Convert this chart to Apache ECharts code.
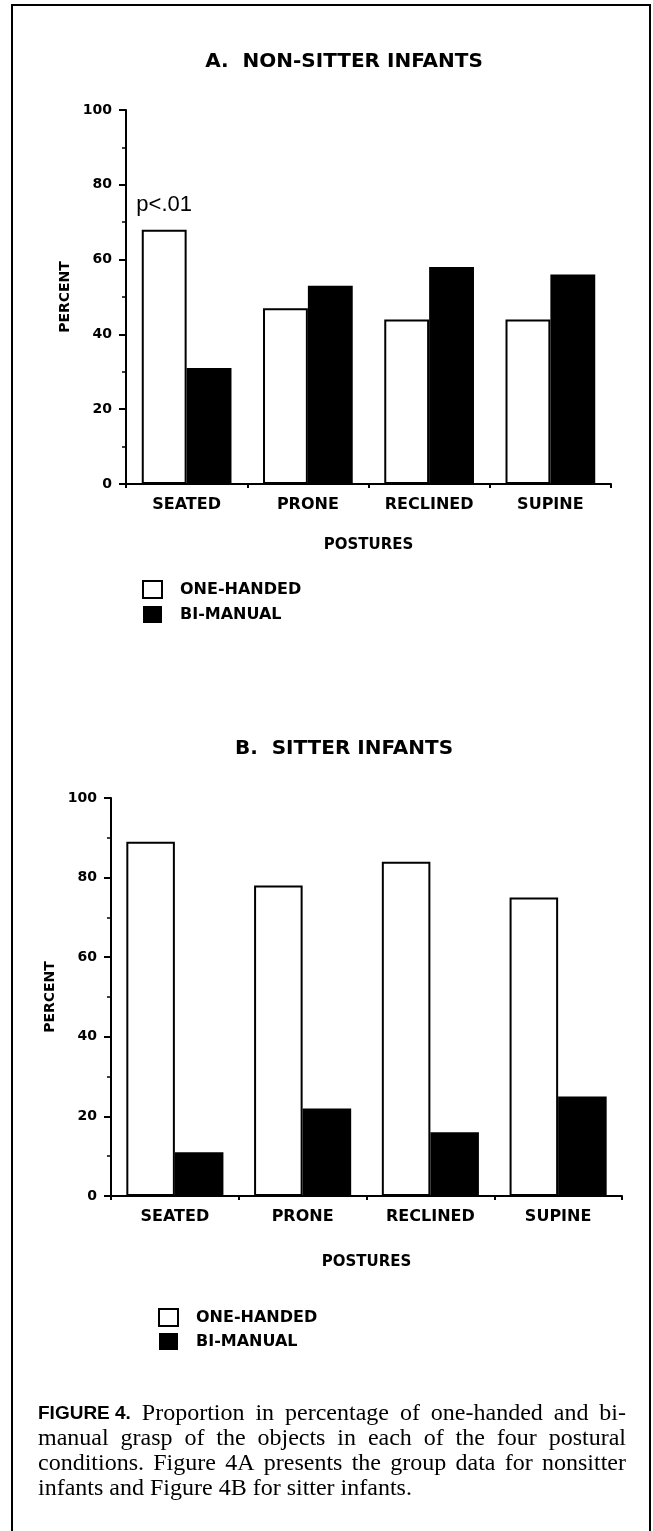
<!DOCTYPE html>
<html>
<head>
<meta charset="utf-8">
<script src="https://cdn.jsdelivr.net/npm/echarts@6/dist/echarts.min.js"></script>
<style>
html, body { margin: 0; padding: 0; background: #fff; }
#chart { width: 653px; height: 1531px; }
</style>
</head>
<body>
<div id="chart"></div>
<script>
// data
const postures = ['SEATED', 'PRONE', 'RECLINED', 'SUPINE']
const yTicks = [0, 20, 40, 60, 80, 100]
const seriesNames = ['ONE-HANDED', 'BI-MANUAL']
// A. non-sitter infants
const nonSitterOneHanded = [68, 47, 44, 44]
const nonSitterBiManual = [31, 53, 58, 56]
const nonSitterNotes = ['p<.01', '', '', '']
// B. sitter infants
const sitterOneHanded = [89, 78, 84, 75]
const sitterBiManual = [11, 22, 16, 25]

const titleA = 'A.  NON-SITTER INFANTS'
const titleB = 'B.  SITTER INFANTS'
const captionHead = 'FIGURE 4.'
const captionLines = [
    'Proportion in percentage of one-handed and bi-',
    'manual grasp of the objects in each of the four postural',
    'conditions. Figure 4A presents the group data for nonsitter',
    'infants and Figure 4B for sitter infants.'
]

const sans = '"DejaVu Sans", sans-serif'
const black = '#000'

const chart = echarts.init(document.getElementById('chart'), null, { renderer: 'canvas' })

// x axis for one panel
const makeXAxis = (gridIndex, nameGap) => ({
    type: 'category',
    gridIndex,
    data: postures,
    axisLine: { lineStyle: { color: black, width: 2 } },
    axisTick: { show: true, length: 4, lineStyle: { color: black, width: 2 } },
    axisLabel: { color: black, fontFamily: sans, fontWeight: 'bold', fontSize: 16, margin: 13 },
    name: 'POSTURES',
    nameLocation: 'middle',
    nameGap,
    nameTextStyle: { color: black, fontFamily: sans, fontWeight: 'bold', fontSize: 15 }
})

const makeYAxis = (gridIndex) => ({
    type: 'value',
    gridIndex,
    min: yTicks[0],
    max: yTicks[yTicks.length - 1],
    interval: yTicks[1] - yTicks[0],
    axisLine: { show: true, lineStyle: { color: black, width: 2 } },
    axisTick: { show: true, length: 7, lineStyle: { color: black, width: 2 } },
    minorTick: { show: true, splitNumber: 2, length: 4, lineStyle: { color: black, width: 1.5 } },
    splitLine: { show: false },
    axisLabel: { color: black, fontFamily: sans, fontWeight: 'bold', fontSize: 14, margin: 14 },
    name: 'PERCENT',
    nameLocation: 'middle',
    nameRotate: 90,
    nameGap: 54,
    nameTextStyle: { color: black, fontFamily: sans, fontWeight: 'bold', fontSize: 14 }
})

const whiteBar = { color: '#fff', borderColor: black, borderWidth: 2 }
const blackBar = { color: black, borderColor: black, borderWidth: 0 }

const legendBase = {
    data: seriesNames,
    orient: 'vertical',
    icon: 'rect',
    itemWidth: 19,
    itemHeight: 17,
    selectedMode: false,
    textStyle: { color: black, fontFamily: sans, fontWeight: 'bold', fontSize: 16, padding: [0, 0, 0, 13] }
}

// caption, justified word by word
const measureCtx = document.createElement('canvas').getContext('2d')
const serifFont = '24px "Liberation Serif", serif'
const headFont = 'bold 19px "Liberation Sans", sans-serif'
const captionLeft = 38
const captionRight = 626
const captionTop = 1414
const captionLineHeight = 25

const captionGraphics = []
captionLines.forEach((line, i) => {
    const tokens = line.split(' ').map(w => ({ text: w, font: serifFont }))
    if (i === 0) tokens.unshift({ text: captionHead, font: headFont })
    tokens.forEach(t => {
        measureCtx.font = t.font
        t.w = measureCtx.measureText(t.text).width
    })
    const total = tokens.reduce((s, t) => s + t.w, 0)
    measureCtx.font = serifFont
    const last = i === captionLines.length - 1
    const gap = last ? measureCtx.measureText(' ').width : (captionRight - captionLeft - total) / (tokens.length - 1)
    let x = captionLeft
    tokens.forEach(t => {
        captionGraphics.push({
            type: 'text',
            x,
            y: captionTop + i * captionLineHeight,
            style: { text: t.text, font: t.font, fill: black, verticalAlign: 'middle' }
        })
        x += t.w + gap
    })
})

const option = {
    animation: false,
    backgroundColor: '#fff',
    grid: [
        { left: 126, top: 110, width: 485, height: 374 },
        { left: 111, top: 798, width: 511, height: 398 }
    ],
    xAxis: [makeXAxis(0, 54), makeXAxis(1, 59)],
    yAxis: [makeYAxis(0), makeYAxis(1)],
    legend: [
        Object.assign({ left: 137, top: 575, itemGap: 7 }, legendBase),
        Object.assign({ left: 153, top: 1303, itemGap: 6 }, legendBase)
    ],
    series: [
        {
            name: seriesNames[0], type: 'bar', xAxisIndex: 0, yAxisIndex: 0,
            barGap: '0%', barCategoryGap: '26%',
            itemStyle: whiteBar,
            data: nonSitterOneHanded.map((v, i) => nonSitterNotes[i] ? {
                value: v,
                label: {
                    show: true, position: 'top', distance: 14, formatter: nonSitterNotes[i],
                    color: black, fontFamily: '"Liberation Sans", sans-serif', fontSize: 22
                }
            } : v)
        },
        {
            name: seriesNames[1], type: 'bar', xAxisIndex: 0, yAxisIndex: 0,
            barGap: '0%', barCategoryGap: '26%',
            itemStyle: blackBar,
            data: nonSitterBiManual
        },
        {
            name: seriesNames[0], type: 'bar', xAxisIndex: 1, yAxisIndex: 1,
            barGap: '0%', barCategoryGap: '24%',
            itemStyle: whiteBar,
            data: sitterOneHanded
        },
        {
            name: seriesNames[1], type: 'bar', xAxisIndex: 1, yAxisIndex: 1,
            barGap: '0%', barCategoryGap: '24%',
            itemStyle: blackBar,
            data: sitterBiManual
        }
    ],
    graphic: [
        // frame: top, left and right edges
        {
            type: 'polyline',
            shape: { points: [[12, 1531], [12, 5], [650, 5], [650, 1531]] },
            style: { stroke: black, lineWidth: 2, fill: null }
        },
        {
            type: 'text', x: 344, y: 62,
            style: { text: titleA, font: 'bold 20px "DejaVu Sans", sans-serif', fill: black, align: 'center', verticalAlign: 'middle' }
        },
        {
            type: 'text', x: 344, y: 749,
            style: { text: titleB, font: 'bold 20px "DejaVu Sans", sans-serif', fill: black, align: 'center', verticalAlign: 'middle' }
        },
        ...captionGraphics
    ]
}

chart.setOption(option)
</script>
</body>
</html>
